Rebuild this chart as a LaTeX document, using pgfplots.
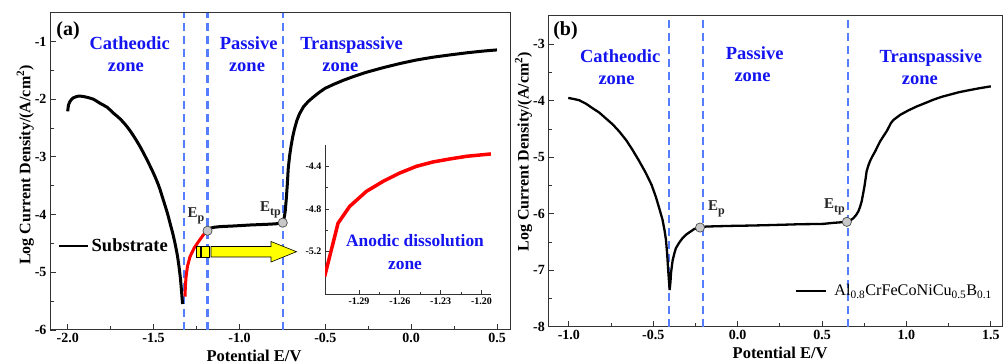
\documentclass[border=0pt]{standalone}
\usepackage{fontspec}
\setmainfont{Liberation Serif}
\usepackage{pgfplots}
\pgfplotsset{compat=1.18}
\definecolor{zoneblue}{RGB}{20,20,240}
\definecolor{dashblue}{RGB}{85,125,255}
\definecolor{arrowyellow}{RGB}{255,255,0}
\definecolor{markgray}{RGB}{200,200,200}
\newcommand{\fs}[1]{\fontsize{#1}{#1}\selectfont}
\newcommand{\Esub}[1]{E\raisebox{-4pt}{\fs{12}\bfseries #1}}
\tikzset{dashv/.style={draw=dashblue, line width=2.1pt, dash pattern=on 8pt off 5pt}}
\pgfplotsset{
  mystyle/.style={
    scale only axis,
    axis line style={line width=1pt, black!80},
    every tick/.style={line width=0.9pt, black!80},
    tick align=inside,
    xtick pos=left, ytick pos=left,
    major tick length=6pt, minor tick length=3.5pt,
    minor x tick num=1, minor y tick num=1,
    tick label style={font=\bfseries\fs{14}},
    xlabel style={font=\bfseries\fs{16.5}},
    ylabel style={font=\bfseries\fs{16}},
  },
  epmark/.style={only marks, mark=*, mark size=4.6pt, mark options={fill=markgray, draw=black!70, line width=0.7pt}, forget plot},
}
\begin{document}
\begin{tikzpicture}
\useasboundingbox (0pt,0pt) rectangle (1008pt,363pt);
% ---------------- panel (a)
\begin{axis}[mystyle, at={(50pt,33pt)}, anchor=south west,
  width=460pt, height=317.3pt,
  xmin=-2.103, xmax=0.575, ymin=-6, ymax=-0.5,
  xtick={-2,-1.5,-1,-0.5,0,0.5}, xticklabels={-2.0,-1.5,-1.0,-0.5,0.0,0.5},
  ytick={-6,-5,-4,-3,-2,-1}, yticklabels={-6,-5,-4,-3,-2,-1},
  xlabel={Potential E/V}, ylabel={Log Current Density/(A/cm\textsuperscript{2})},
  xlabel style={at={(ticklabel cs:0.4435)}},
  ylabel style={at={(ticklabel cs:0.52,-6pt)}},
  legend style={draw=none, fill=none, at={(0.0174,0.2647)}, anchor=west, inner sep=0pt,
    font=\bfseries\fs{18.5}},
  legend cell align=left,
  legend image code/.code={\draw[line width=2.5pt,black] (0pt,0pt) -- (29pt,0pt);},
]
\draw[dashv] (axis cs:-1.322,-6) -- (axis cs:-1.322,-0.5);
\draw[dashv] (axis cs:-1.186,-6) -- (axis cs:-1.186,-0.5);
\draw[dashv] (axis cs:-0.748,-6) -- (axis cs:-0.748,-0.5);
\addplot[black, line width=3pt, smooth] coordinates {
(-2.000,-2.21) (-1.995,-2.10) (-1.985,-2.03) (-1.970,-1.98) (-1.950,-1.955)
(-1.935,-1.945) (-1.915,-1.950) (-1.890,-1.965) (-1.850,-2.00) (-1.812,-2.07)
(-1.770,-2.14) (-1.734,-2.24) (-1.695,-2.34) (-1.656,-2.47) (-1.620,-2.62)
(-1.579,-2.82) (-1.540,-3.04) (-1.501,-3.28) (-1.470,-3.50) (-1.443,-3.75)
(-1.420,-3.97) (-1.404,-4.15) (-1.388,-4.33) (-1.375,-4.50) (-1.362,-4.70)
(-1.352,-4.90) (-1.344,-5.10) (-1.338,-5.30) (-1.334,-5.45) (-1.331,-5.55)};
\addlegendentry{Substrate}
\addplot[red, line width=3pt, forget plot] coordinates {
(-1.317,-5.42) (-1.315,-5.25) (-1.311,-5.08) (-1.303,-4.90) (-1.288,-4.73)
(-1.264,-4.58) (-1.239,-4.47) (-1.210,-4.35) (-1.186,-4.28)};
\addplot[black, line width=3pt, forget plot] coordinates {
(-1.186,-4.28) (-1.170,-4.235) (-1.150,-4.22) (-1.113,-4.208) (-1.035,-4.197)
(-0.938,-4.18) (-0.841,-4.168) (-0.790,-4.16) (-0.748,-4.14)
(-0.740,-4.06) (-0.734,-3.95) (-0.728,-3.75) (-0.722,-3.50) (-0.716,-3.20)
(-0.708,-2.98) (-0.700,-2.82) (-0.690,-2.65) (-0.680,-2.52) (-0.666,-2.37)
(-0.650,-2.25) (-0.627,-2.13) (-0.600,-2.04) (-0.569,-1.96) (-0.535,-1.88)
(-0.501,-1.81) (-0.450,-1.74) (-0.394,-1.67) (-0.330,-1.60) (-0.258,-1.53)
(-0.160,-1.45) (-0.064,-1.38) (0.030,-1.32) (0.130,-1.27) (0.230,-1.23)
(0.324,-1.195) (0.420,-1.165) (0.499,-1.145)};
\addplot[epmark] coordinates {(-1.186,-4.28) (-0.748,-4.14)};
\end{axis}
% ---------------- inset
\begin{axis}[scale only axis, at={(325pt,68.7pt)}, anchor=south west,
  width=166pt, height=149.3pt, axis lines*=left,
  axis line style={line width=1pt, black!80},
  every tick/.style={line width=0.8pt, black!80},
  tick align=inside, major tick length=4pt, minor tick length=2.5pt,
  xmin=-1.315, xmax=-1.193, ymin=-5.6, ymax=-4.2,
  xtick={-1.29,-1.26,-1.23,-1.20}, xticklabels={-1.29,-1.26,-1.23,-1.20},
  ytick={-5.2,-4.8,-4.4}, yticklabels={-5.2,-4.8,-4.4},
  minor x tick num=1, minor y tick num=1,
  tick label style={font=\bfseries\fs{10}},
]
\addplot[red, line width=3.5pt] coordinates {
(-1.3153,-5.435) (-1.3054,-4.933) (-1.2969,-4.776) (-1.2846,-4.635) (-1.2723,-4.541)
(-1.2601,-4.463) (-1.2478,-4.400) (-1.2356,-4.359) (-1.2233,-4.331) (-1.2110,-4.306)
(-1.1931,-4.284)};
\end{axis}
% ---------------- panel (b)
\begin{axis}[mystyle, at={(548.3pt,36.3pt)}, anchor=south west,
  width=454.5pt, height=310.7pt,
  xmin=-1.122, xmax=1.571, ymin=-8, ymax=-2.5,
  xtick={-1,-0.5,0,0.5,1,1.5}, xticklabels={-1.0,-0.5,0.0,0.5,1.0,1.5},
  ytick={-8,-7,-6,-5,-4,-3}, yticklabels={-8,-7,-6,-5,-4,-3},
  xlabel={Potential E/V}, ylabel={Log Current Density/(A/cm\textsuperscript{2})},
  xlabel style={at={(ticklabel cs:0.51)}},
  ylabel style={at={(ticklabel cs:0.563,-6pt)}},
  legend style={draw=none, fill=none, at={(0.5426,0.1159)}, anchor=west, inner sep=0pt,
    font=\fs{16.2}},
  legend cell align=left,
  legend image code/.code={\draw[line width=2.3pt,black] (0pt,0pt) -- (30pt,0pt); \path (35pt,0pt);},
]
\draw[dashv] (axis cs:-0.409,-8) -- (axis cs:-0.409,-2.5);
\draw[dashv] (axis cs:-0.203,-8) -- (axis cs:-0.203,-2.5);
\draw[dashv] (axis cs:0.653,-8) -- (axis cs:0.653,-2.5);
\addplot[black, line width=2.3pt] coordinates {
(-1.004,-3.95) (-0.970,-3.97) (-0.940,-3.99) (-0.900,-4.05) (-0.861,-4.13)
(-0.820,-4.21) (-0.782,-4.31) (-0.740,-4.42) (-0.703,-4.54) (-0.660,-4.70)
(-0.623,-4.87) (-0.585,-5.06) (-0.544,-5.28) (-0.510,-5.49) (-0.485,-5.70)
(-0.465,-5.90) (-0.445,-6.11) (-0.433,-6.30) (-0.425,-6.46) (-0.418,-6.70)
(-0.413,-6.94) (-0.408,-7.15) (-0.403,-7.35) (-0.398,-7.20) (-0.395,-7.05)
(-0.390,-6.93) (-0.385,-6.82) (-0.375,-6.70) (-0.366,-6.61) (-0.346,-6.51)
(-0.326,-6.43) (-0.306,-6.37) (-0.286,-6.33) (-0.257,-6.27) (-0.223,-6.245)
(-0.187,-6.227) (-0.100,-6.22) (-0.029,-6.215) (0.070,-6.21) (0.170,-6.203)
(0.270,-6.195) (0.368,-6.186) (0.450,-6.183) (0.507,-6.180) (0.566,-6.162)
(0.647,-6.144) (0.667,-6.12) (0.685,-6.08) (0.700,-6.03) (0.715,-5.96)
(0.725,-5.88) (0.735,-5.78) (0.743,-5.65) (0.751,-5.52) (0.758,-5.38)
(0.764,-5.25) (0.774,-5.15) (0.784,-5.07) (0.799,-4.98) (0.814,-4.90)
(0.829,-4.81) (0.844,-4.72) (0.863,-4.63) (0.883,-4.54) (0.897,-4.46)
(0.907,-4.40) (0.923,-4.34) (0.963,-4.25) (1.012,-4.17) (1.062,-4.10)
(1.112,-4.04) (1.161,-3.98) (1.210,-3.93) (1.260,-3.89) (1.310,-3.85)
(1.359,-3.82) (1.430,-3.78) (1.500,-3.745)};
\addlegendentry{Al\textsubscript{0.8}CrFeCoNiCu\textsubscript{0.5}B\textsubscript{0.1}}
\addplot[epmark] coordinates {(-0.223,-6.245) (0.647,-6.144)};
\end{axis}
% ---------------- annotations
\begin{scope}[every node/.style={font=\bfseries\fs{18.5}, text=zoneblue, inner sep=0pt, anchor=base}]
\node at (129.7pt,313.3pt) {Catheodic};
\node at (125.8pt,291.3pt) {zone};
\node at (248.7pt,313.3pt) {Passive};
\node at (247pt,291.3pt) {zone};
\node at (351.5pt,313.3pt) {Transpassive};
\node at (340.3pt,291.3pt) {zone};
\node[font=\bfseries\fs{17.4}] at (415pt,116.3pt) {Anodic dissolution};
\node[font=\bfseries\fs{17.4}] at (405pt,93pt) {zone};
\node at (620.2pt,300.3pt) {Catheodic};
\node at (616.5pt,278pt) {zone};
\node at (754.7pt,303.7pt) {Passive};
\node at (752.5pt,281.3pt) {zone};
\node at (930.8pt,300.3pt) {Transpassive};
\node at (919.8pt,278pt) {zone};
\end{scope}
\begin{scope}[every node/.style={font=\bfseries\fs{20}, text=black, inner sep=0pt, anchor=base}]
\node at (68pt,327.3pt) {(a)};
\node at (565.5pt,327pt) {(b)};
\end{scope}
\begin{scope}[every node/.style={font=\bfseries\fs{15}, text=black!85, inner sep=0pt, anchor=base west}]
\node at (187.5pt,145pt) {\Esub{p}};
\node at (260pt,151pt) {\Esub{tp}};
\node at (708pt,152pt) {\Esub{p}};
\node at (824pt,154pt) {\Esub{tp}};
\end{scope}
% yellow arrow
\filldraw[fill=arrowyellow, draw=black, line width=0.6pt] (196pt,106pt) rectangle (200pt,116.5pt);
\filldraw[fill=arrowyellow, draw=black, line width=0.6pt] (201.5pt,106pt) rectangle (209pt,116.5pt);
\filldraw[fill=arrowyellow, draw=black, line width=0.6pt]
  (211pt,106pt) -- (271pt,106pt) -- (271pt,101pt) -- (296.5pt,111.3pt) -- (271pt,121.5pt)
  -- (271pt,116.5pt) -- (211pt,116.5pt) -- cycle;
\end{tikzpicture}
\end{document}
